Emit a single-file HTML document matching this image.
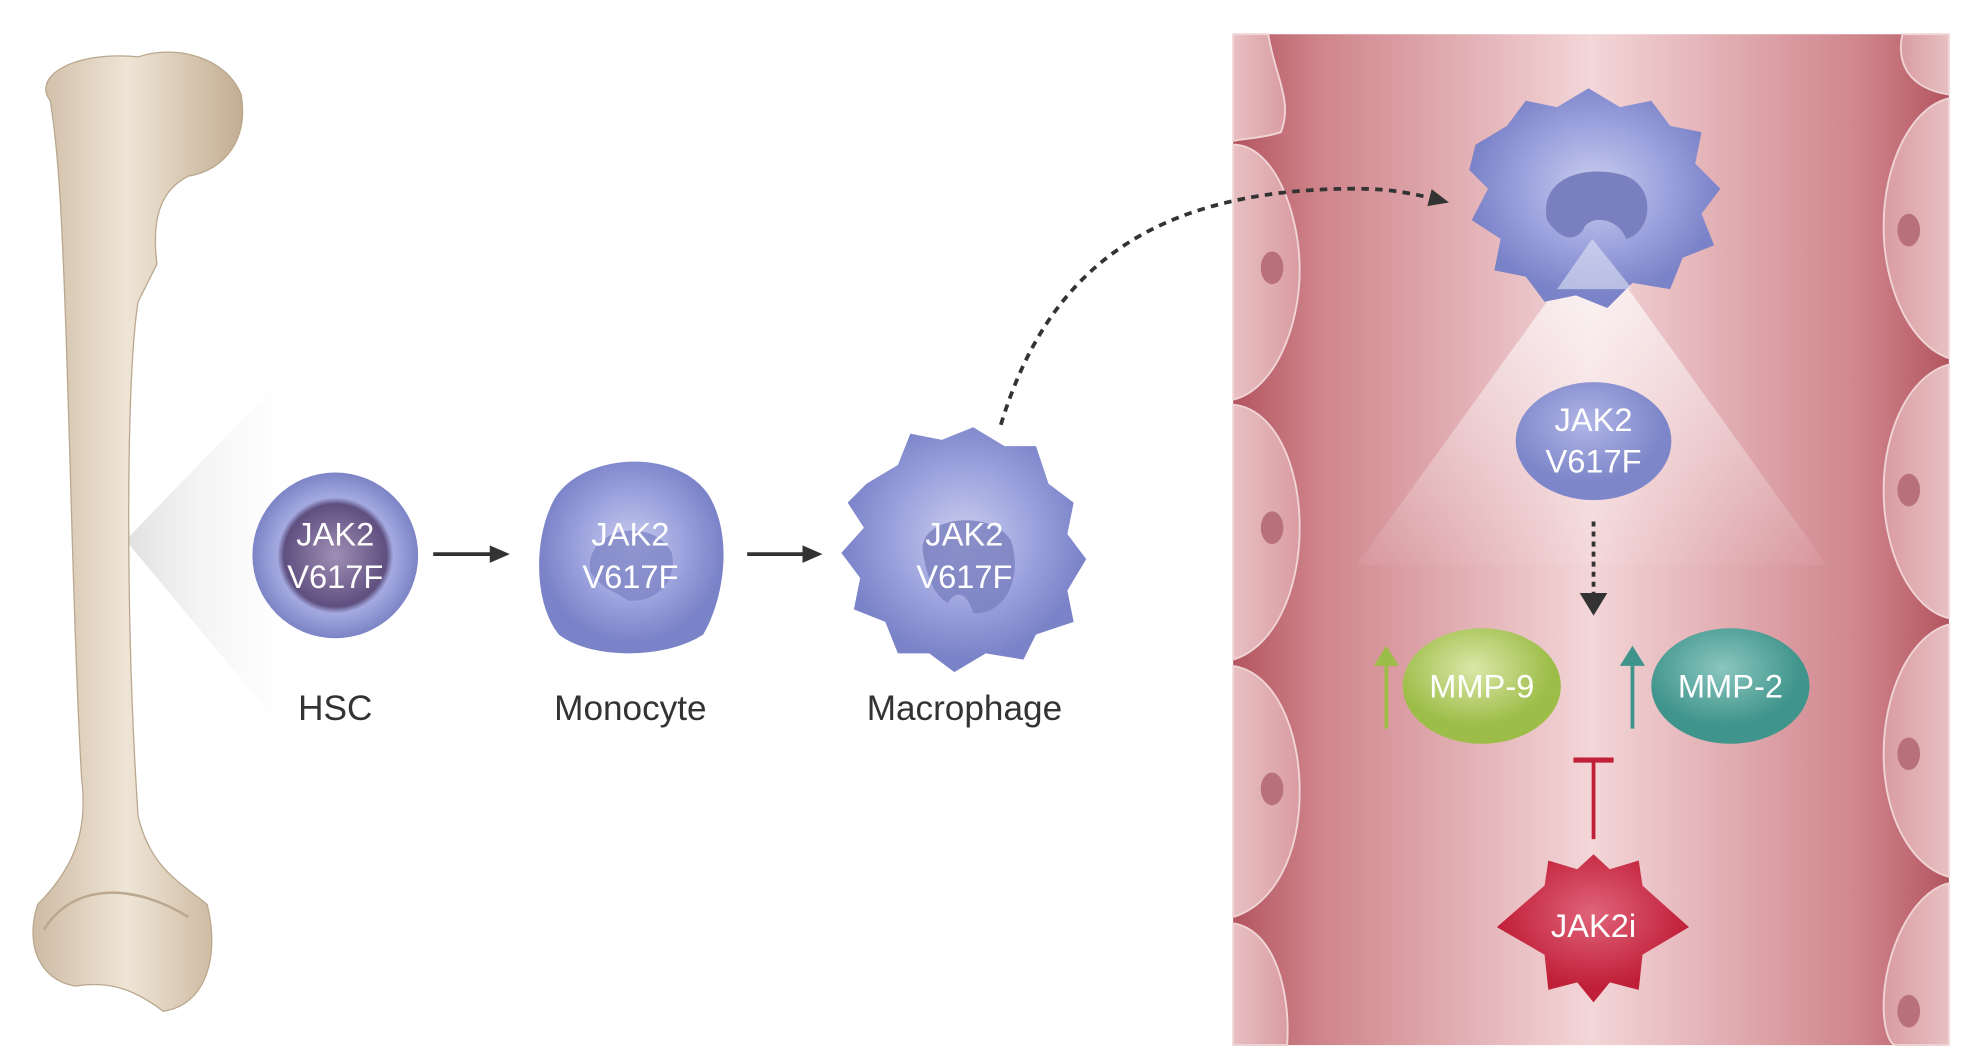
<!DOCTYPE html>
<html><head><meta charset="utf-8"><style>html,body{margin:0;padding:0;background:#fff}svg{display:block}</style></head><body>
<svg width="1969" height="1058" viewBox="0 0 1568 842" xmlns="http://www.w3.org/2000/svg" font-family="Liberation Sans, sans-serif">
<defs>
<linearGradient id="lumen" x1="0" x2="1" y1="0" y2="0">
<stop offset="0" stop-color="#b3555f"/><stop offset="0.12" stop-color="#cf848b"/><stop offset="0.5" stop-color="#f3d6d8"/><stop offset="0.88" stop-color="#cf848b"/><stop offset="1" stop-color="#b3555f"/></linearGradient>
<linearGradient id="bone" x1="0" x2="1"><stop offset="0" stop-color="#cdbba4"/><stop offset="0.45" stop-color="#efe5d6"/><stop offset="1" stop-color="#c2ad92"/></linearGradient>
<radialGradient id="hsc" cx="0.5" cy="0.5"><stop offset="0" stop-color="#a08fb5"/><stop offset="0.62" stop-color="#5f4f80"/><stop offset="0.7" stop-color="#a4aae0"/><stop offset="1" stop-color="#7c84c6"/></radialGradient>
<radialGradient id="cell" cx="0.5" cy="0.45"><stop offset="0" stop-color="#c9cdee"/><stop offset="0.6" stop-color="#9aa0dc"/><stop offset="1" stop-color="#7a82c8"/></radialGradient>
<radialGradient id="jak" cx="0.45" cy="0.35"><stop offset="0" stop-color="#b1b6e6"/><stop offset="1" stop-color="#7d86c9"/></radialGradient>
<radialGradient id="m9" cx="0.45" cy="0.35"><stop offset="0" stop-color="#dbe7a8"/><stop offset="1" stop-color="#9cbd47"/></radialGradient>
<radialGradient id="m2" cx="0.45" cy="0.35"><stop offset="0" stop-color="#8ac6bf"/><stop offset="1" stop-color="#3f948b"/></radialGradient>
<radialGradient id="star" cx="0.5" cy="0.4"><stop offset="0" stop-color="#e0647a"/><stop offset="1" stop-color="#c01f38"/></radialGradient>
<linearGradient id="wallL" x1="0" x2="1"><stop offset="0" stop-color="#e8c0c2"/><stop offset="1" stop-color="#d99ca1"/></linearGradient>
<linearGradient id="wallR" x1="1" x2="0"><stop offset="0" stop-color="#e8c0c2"/><stop offset="1" stop-color="#d99ca1"/></linearGradient>
<linearGradient id="cone" x1="0" x2="1"><stop offset="0" stop-color="#e0e0e0"/><stop offset="1" stop-color="#ffffff" stop-opacity="0"/></linearGradient>
<linearGradient id="pyr" x1="0" y1="0" x2="0" y2="1"><stop offset="0" stop-color="#fff" stop-opacity="0.75"/><stop offset="1" stop-color="#fff" stop-opacity="0.05"/></linearGradient>
<marker id="ah" markerWidth="16" markerHeight="16" refX="12" refY="8" orient="auto" markerUnits="userSpaceOnUse"><path d="M0,1 L16,8 L0,15z" fill="#333"/></marker>
</defs>

<path d="M100,430 L250,275 L250,610 Z" fill="url(#cone)"/>
<path d="M40,80 C25,60 60,40 110,45 C140,35 180,45 192,75 C198,110 180,135 150,140 C130,150 120,170 125,210 L110,240 C100,300 100,500 110,650 C120,690 140,700 165,720 C175,760 165,800 130,805 C110,790 90,780 60,785 C30,780 20,750 30,720 C60,690 70,660 65,620 C58,500 55,300 50,200 C48,150 45,110 40,80 Z" fill="url(#bone)" stroke="#b9a68c" stroke-width="1"/>
<path d="M35,740 C60,700 110,705 150,730" fill="none" stroke="#bba890" stroke-width="2"/>

<rect x="982" y="27" width="570" height="805" fill="url(#lumen)"/>
<g fill="url(#wallL)" stroke="#f0d4d6" stroke-width="1.5">
<path d="M982,27 L1010,27 C1015,60 1030,80 1020,105 C1005,110 990,110 982,112 Z"/>
<path d="M982,115 C1015,115 1035,170 1035,215 C1035,260 1015,310 982,318 Z"/>
<path d="M982,322 C1015,325 1035,370 1035,420 C1035,470 1015,515 982,525 Z"/>
<path d="M982,530 C1015,535 1035,580 1035,630 C1035,680 1015,720 982,730 Z"/>
<path d="M982,735 C1015,740 1028,790 1025,832 L982,832 Z"/>
</g>
<g fill="url(#wallR)" stroke="#f0d4d6" stroke-width="1.5">
<path d="M1552,27 L1515,27 C1510,50 1520,70 1552,75 Z"/>
<path d="M1552,78 C1522,85 1500,130 1500,180 C1500,230 1522,275 1552,285 Z"/>
<path d="M1552,290 C1522,298 1500,340 1500,390 C1500,440 1522,485 1552,492 Z"/>
<path d="M1552,497 C1522,505 1500,550 1500,600 C1500,650 1522,690 1552,698 Z"/>
<path d="M1552,703 C1522,710 1500,760 1500,800 C1500,820 1505,832 1510,832 L1552,832 Z"/>
</g>
<g fill="#b8707a"><ellipse cx="1013" cy="213" rx="9" ry="13"/><ellipse cx="1013" cy="420" rx="9" ry="13"/><ellipse cx="1013" cy="628" rx="9" ry="13"/><ellipse cx="1520" cy="183" rx="9" ry="13"/><ellipse cx="1520" cy="390" rx="9" ry="13"/><ellipse cx="1520" cy="600" rx="9" ry="13"/><ellipse cx="1520" cy="805" rx="9" ry="13"/></g>

<path d="M1268,190 L1080,450 L1455,450 Z" fill="url(#pyr)"/>

<path d="M1175,115 L1200,100 L1215,80 L1240,85 L1265,70 L1290,85 L1315,80 L1330,100 L1355,105 L1350,130 L1370,150 L1355,170 L1365,195 L1340,205 L1330,230 L1300,225 L1280,245 L1255,235 L1230,240 L1215,220 L1190,215 L1195,190 L1172,175 L1185,150 L1170,135 Z" fill="url(#cell)"/>
<path d="M1232,175 C1225,140 1265,130 1295,140 C1320,150 1315,185 1295,190 C1290,175 1270,170 1262,180 C1258,190 1245,195 1232,175 Z" fill="#7a7fbf"/>
<path d="M1268,190 L1240,230 L1300,230 Z" fill="#dfe2f3" opacity="0.6"/>

<circle cx="267" cy="442" r="66" fill="url(#hsc)"/>
<path d="M440,400 C460,360 540,355 565,395 C585,430 575,480 560,505 C530,525 470,525 445,505 C425,480 425,430 440,400 Z" fill="url(#cell)"/>
<path d="M470,455 C465,420 520,410 535,440 C540,465 520,480 500,478 C490,470 480,470 470,455 Z" fill="#7f86c6" opacity="0.8"/>
<path d="M690,385 L715,370 L725,345 L750,350 L775,340 L800,355 L825,355 L835,385 L855,400 L850,425 L865,445 L850,470 L855,495 L825,505 L815,525 L785,520 L760,535 L740,520 L715,520 L705,495 L680,485 L685,460 L670,440 L688,420 L675,400 Z" fill="url(#cell)"/>
<path d="M735,440 C730,410 790,405 805,430 C815,460 800,490 775,488 C770,470 760,470 755,480 C745,475 738,460 735,440 Z" fill="#7a7fbf" opacity="0.8"/>

<g fill="#fff" font-size="26" text-anchor="middle">
<text x="267" y="434">JAK2</text><text x="267" y="468">V617F</text>
<text x="502" y="434">JAK2</text><text x="502" y="468">V617F</text>
<text x="768" y="434">JAK2</text><text x="768" y="468">V617F</text>
</g>
<g fill="#333" font-size="28" text-anchor="middle">
<text x="267" y="573">HSC</text><text x="502" y="573">Monocyte</text><text x="768" y="573">Macrophage</text>
</g>
<g stroke="#333" stroke-width="3">
<line x1="345" y1="441" x2="402" y2="441" marker-end="url(#ah)"/>
<line x1="595" y1="441" x2="651" y2="441" marker-end="url(#ah)"/>
</g>
<path d="M797,338 C830,230 900,150 1080,150 C1110,150 1130,155 1150,160" fill="none" stroke="#333" stroke-width="3" stroke-dasharray="6,5" marker-end="url(#ah)"/>

<ellipse cx="1269" cy="351" rx="62" ry="47" fill="url(#jak)"/>
<g fill="#fff" font-size="26" text-anchor="middle"><text x="1269" y="343">JAK2</text><text x="1269" y="376">V617F</text></g>
<line x1="1269" y1="415" x2="1269" y2="476" stroke="#333" stroke-width="3" stroke-dasharray="4,4"/>
<path d="M1258,472 L1280,472 L1269,490 Z" fill="#333"/>

<ellipse cx="1180" cy="546" rx="63" ry="46" fill="url(#m9)"/>
<ellipse cx="1378" cy="546" rx="63" ry="46" fill="url(#m2)"/>
<g fill="#fff" font-size="26" text-anchor="middle"><text x="1180" y="555">MMP-9</text><text x="1378" y="555">MMP-2</text></g>
<line x1="1104" y1="580" x2="1104" y2="525" stroke="#9cbd47" stroke-width="3"/>
<path d="M1094,530 L1104,514 L1114,530Z" fill="#9cbd47"/>
<line x1="1300" y1="580" x2="1300" y2="525" stroke="#3f948b" stroke-width="3"/>
<path d="M1290,530 L1300,514 L1310,530Z" fill="#3f948b"/>

<line x1="1253" y1="605" x2="1285" y2="605" stroke="#c01f38" stroke-width="4"/>
<line x1="1269" y1="605" x2="1269" y2="668" stroke="#c01f38" stroke-width="3"/>
<path d="M1269,680 L1282,692 L1305,685 L1308,705 L1345,738 L1308,760 L1305,788 L1282,782 L1269,798 L1256,782 L1233,788 L1230,760 L1192,738 L1230,705 L1233,685 L1256,692 Z" fill="url(#star)"/>
<text x="1269" y="746" fill="#fff" font-size="26" text-anchor="middle">JAK2i</text>
</svg>
</body></html>
